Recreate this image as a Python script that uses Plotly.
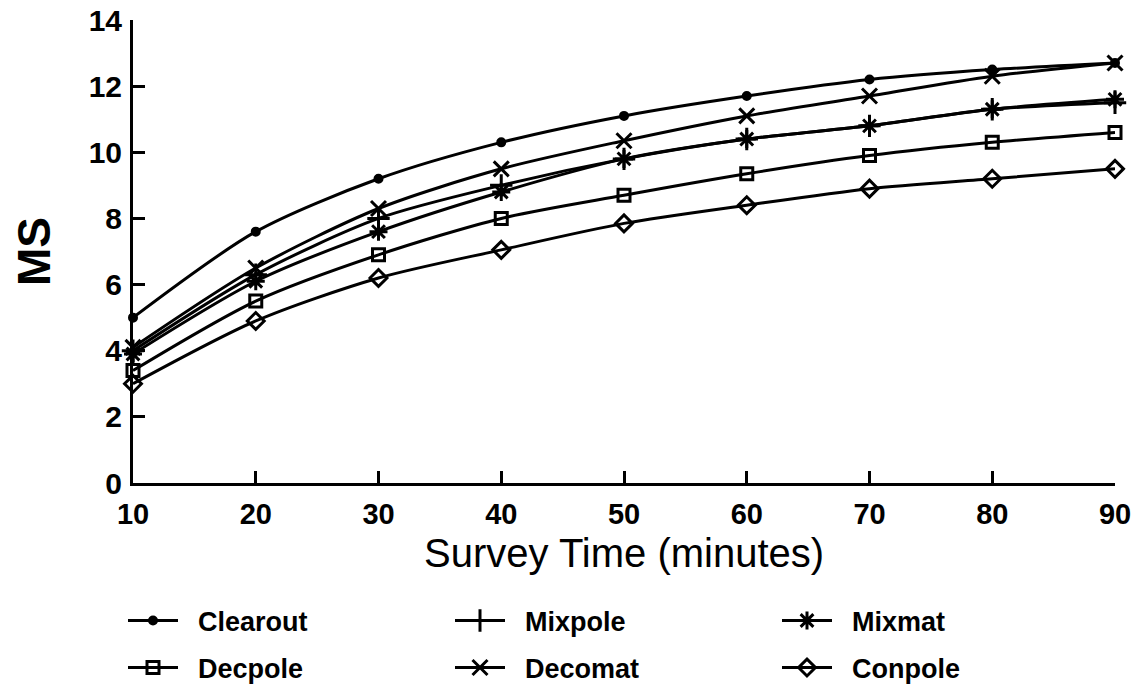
import plotly.graph_objects as go

survey_time = [10, 20, 30, 40, 50, 60, 70, 80, 90]
clearout = [5.0, 7.6, 9.2, 10.3, 11.1, 11.7, 12.2, 12.5, 12.7]
mixpole = [4.0, 6.3, 8.0, 9.0, 9.8, 10.4, 10.8, 11.3, 11.5]
mixmat = [3.9, 6.1, 7.6, 8.8, 9.8, 10.4, 10.8, 11.3, 11.6]
decpole = [3.4, 5.5, 6.9, 8.0, 8.7, 9.35, 9.9, 10.3, 10.6]
decomat = [4.1, 6.5, 8.3, 9.5, 10.35, 11.1, 11.7, 12.3, 12.7]
conpole = [3.0, 4.9, 6.2, 7.05, 7.85, 8.4, 8.9, 9.2, 9.5]

series_names = ["Clearout", "Mixpole", "Mixmat", "Decpole", "Decomat", "Conpole"]
series_values = [clearout, mixpole, mixmat, decpole, decomat, conpole]
symbols = ["circle", "cross-thin", "asterisk", "square-open", "x-thin", "diamond-open"]
sizes = [7, 16, 15, 12, 15, 13]
legend_rows = ["legend", "legend", "legend", "legend2", "legend2", "legend2"]

y_ticks = [0, 2, 4, 6, 8, 10, 12, 14]
x_title = "Survey Time (minutes)"
y_title = "MS"

fig = go.Figure()
for name, vals, sym, sz, lg in zip(series_names, series_values, symbols, sizes, legend_rows):
    fig.add_trace(go.Scatter(
        x=survey_time, y=vals, name="\u00a0\u00a0" + name, mode="lines+markers",
        line=dict(color="black", width=3, shape="spline", smoothing=0.8),
        marker=dict(symbol=sym, size=sz, color="black",
                    line=dict(color="black", width=3)),
        cliponaxis=False, legend=lg,
    ))

legend_common = dict(
    orientation="h", xref="container", yref="container",
    x=123 / 1138, xanchor="left", yanchor="middle",
    entrywidth=262, entrywidthmode="pixels",
    itemwidth=50, traceorder="normal", bgcolor="rgba(0,0,0,0)",
    font=dict(size=27, weight="bold", family="Liberation Sans, Arial, sans-serif"),
)

fig.update_layout(
    width=1138, height=687,
    margin=dict(l=133, r=23, t=20, b=204),
    paper_bgcolor="white", plot_bgcolor="white",
    font=dict(family="Liberation Sans, Arial, sans-serif", color="black"),
    showlegend=True,
    legend=dict(legend_common, y=1 - 621 / 687),
    legend2=dict(legend_common, y=1 - 668 / 687),
    xaxis=dict(
        range=[10, 90], tickvals=survey_time, ticks="inside", ticklen=12,
        tickwidth=3, tickcolor="black", showline=True, linewidth=3, linecolor="black",
        showgrid=False, zeroline=False, automargin=False,
        tickfont=dict(size=29, weight="bold"), ticklabelstandoff=3,
    ),
    yaxis=dict(
        range=[0, 14], tickvals=y_ticks, ticks="inside", ticklen=12,
        tickwidth=3, tickcolor="black", showline=True, linewidth=3, linecolor="black",
        showgrid=False, zeroline=False, automargin=False,
        tickfont=dict(size=30, weight="bold"), ticklabelstandoff=2,
        title=dict(text=y_title, font=dict(size=46, weight="bold"), standoff=24),
    ),
    annotations=[dict(
        text=x_title, xref="paper", yref="paper", x=0.5, y=-70 / 463,
        xanchor="center", yanchor="middle", showarrow=False,
        font=dict(size=40, color="black"),
    )],
)

fig.write_html("out.html", config={"displayModeBar": False},
               post_script="document.body.style.margin='0';document.body.style.overflow='hidden';")
